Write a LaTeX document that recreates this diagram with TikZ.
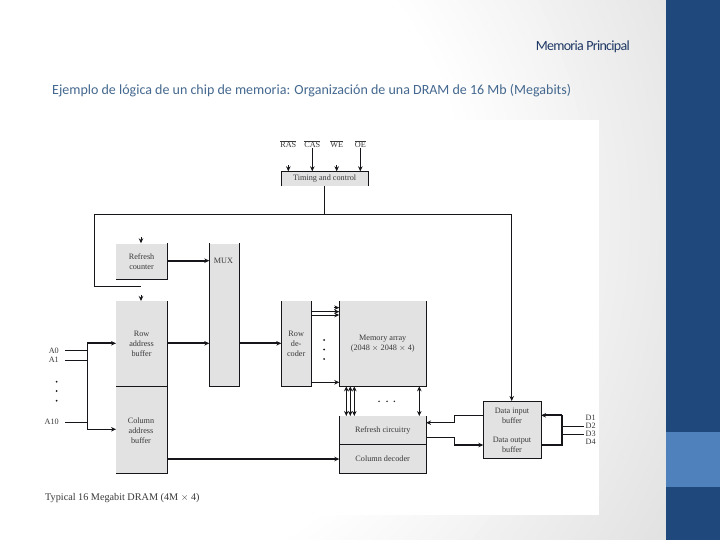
\documentclass[tikz,border=0pt]{standalone}
\usepackage{fontspec}
\setmainfont{Liberation Serif}
\newfontfamily\slidefont{Carlito}
\newfontfamily\squeezefont[LetterSpace=-5]{Carlito}
\usetikzlibrary{arrows.meta,calc,positioning}

\tikzset{
  blockbox/.style={fill=blockgray, inner sep=0pt, anchor=north west, align=center, font=\fontsize{8.2}{10}\selectfont, text=ink!85},
  edge/.style={draw=ink, line width=0.9pt},
  thin line/.style={draw=ink, line width=0.8pt},
  bus/.style={draw=ink, line width=1.7pt},
  tip/.style={-{Stealth[length=5pt,width=4.5pt]}},
  sigtext/.style={font=\fontsize{8.2}{10}\selectfont, text=ink!85, inner sep=0pt},
  dotmark/.style={circle, fill=ink, inner sep=0pt, minimum size=2pt}
}

\begin{document}
\begin{tikzpicture}[x=1pt, y=-1pt, >=Latex]
  \definecolor{ink}{HTML}{16161A}
  \definecolor{blockgray}{HTML}{E2E2E2}
  \definecolor{barblue}{HTML}{1F497D}
  \definecolor{lightblue}{HTML}{4F81BD}
  \definecolor{navy}{HTML}{1F3864}
  \definecolor{steel}{HTML}{44688F}
  \useasboundingbox (0,0) rectangle (720,540);

  % slide background
  \begin{scope}
    \clip (0,0) rectangle (720,540);
    \foreach \rad in {800,790,...,370} {
      \pgfmathsetmacro{\shadepct}{100-(\rad-370)/270*11}
      \fill[white!\shadepct!black] (100,220) circle (\rad);
    }
  \end{scope}
  \fill[white] (40,120) rectangle (599.4,515);
  \fill[barblue] (666,0) rectangle (720,540);
  \fill[lightblue] (666,432) rectangle (720,486.7);

  \node[anchor=east, text=navy, inner sep=0pt, font=\squeezefont\fontsize{14}{16}\selectfont] (slidetitle) at (630,47) {Memoria Principal};
  \node[anchor=west, text=steel, inner sep=0pt, font=\slidefont\fontsize{14}{16}\selectfont] (subtitle) at (52,91) {Ejemplo de lógica de un chip de memoria: Organización de una DRAM de 16 Mb (Megabits)};

  % blocks
  \node[blockbox, minimum width=86.4pt, minimum height=14.7pt] (timing) at (281.3,171.3) {Timing and control};
  \node[blockbox, minimum width=50.7pt, minimum height=36pt] (refresh) at (116,243.3) {Refresh\\counter};
  \node[blockbox, minimum width=29.4pt, minimum height=143pt] (mux) at (209.3,243.3) {};
  \node[sigtext] (muxtext) at (223.5,260.5) {MUX};
  \node[blockbox, minimum width=50.7pt, minimum height=85.3pt] (rowbuf) at (116,301) {Row\\address\\buffer};
  \node[blockbox, minimum width=50.7pt, minimum height=87pt] (colbuf) at (116,386.3) {};
  \node[sigtext, align=center] (coltext) at (141,430.5) {Column\\address\\buffer};
  \node[blockbox, minimum width=29.4pt, minimum height=85.3pt] (rowdec) at (281.3,301) {Row\\de-\\coder};
  \node[blockbox, minimum width=86.4pt, minimum height=85.3pt] (memory) at (339.3,301) {Memory array\\(2048 $\times$ 2048 $\times$ 4)};
  \node[blockbox, minimum width=86.4pt, minimum height=28.3pt] (refcirc) at (339.3,416) {Refresh circuitry};
  \node[blockbox, minimum width=86.4pt, minimum height=29pt] (coldec) at (339.3,444.3) {Column decoder};
  \node[blockbox, minimum width=57.4pt, minimum height=57.3pt] (databox) at (483.3,401) {};
  \node[sigtext, align=center] (dataintext) at (512,416) {Data input\\buffer};
  \node[sigtext, align=center] (dataouttext) at (512,444.5) {Data output\\buffer};

  % block outlines
  \draw[edge] (timing.south west) |- (timing.north east) -- (timing.south east);
  \draw[edge] (refresh.north east) |- (refresh.south west);
  \draw[edge] (mux.north west) |- (mux.south east) -- (mux.north east);
  \draw[edge] (rowbuf.north east) -- (colbuf.south east) -- (colbuf.south west);
  \draw[edge] (rowbuf.south west) -- (rowbuf.south east);
  \draw[edge] (rowdec.north west) |- (rowdec.south east) -- (rowdec.north east);
  \draw[edge] (memory.north west) |- (memory.south east) -- (memory.north east);
  \draw[edge] (refcirc.north west) |- (coldec.south east) -- (refcirc.north east);
  \draw[edge] (refcirc.north west) -- (coldec.south west);
  \draw[edge] (refcirc.south west) -- (refcirc.south east);
  \draw[edge] (databox.north west) rectangle (databox.south east);

  % signals on top
  \node[sigtext] (ras) at (288.3,144.3) {$\overline{\mbox{RAS}}$};
  \node[sigtext] (cas) at (312.3,144.3) {$\overline{\mbox{CAS}}$};
  \node[sigtext] (we) at (336.7,144.3) {$\overline{\mbox{WE}}$};
  \node[sigtext] (oe) at (360.3,144.3) {$\overline{\mbox{OE}}$};
  \coordinate (rasend) at (288.3,171.3);
  \coordinate (casend) at (312.3,171.3);
  \coordinate (weend) at (336.7,171.3);
  \coordinate (oeend) at (360.3,171.3);
  \draw[thin line, tip] (288.3,165.5) -- (rasend);
  \draw[thin line, tip] (336.7,165.5) -- (weend);
  \draw[thin line, tip] (cas.south) -- (casend);
  \draw[thin line, tip] (oe.south) -- (oeend);

  % control lines
  \coordinate (ctrl) at (324,214.3);
  \coordinate (ctrlleft) at (94,214.3);
  \coordinate (ctrlright) at (511.7,214.3);
  \coordinate (ctrldown) at (94,286);
  \coordinate (ctrlend) at (140.7,286);
  \draw[thin line] (timing.south -| ctrl) -- (ctrl);
  \draw[thin line] (ctrlend) -- (ctrldown) -- (ctrlleft) -- (ctrlright);
  \draw[thin line, tip] (ctrlright) -- (ctrlright |- databox.north);
  \draw[thin line, tip] (141,237) -- (141,243.3);
  \draw[thin line, tip] (141,294.5) -- (141,301);

  % addresses
  \node[sigtext, anchor=east] (a0) at (59,350.7) {A0};
  \node[sigtext, anchor=east] (a1) at (59,360) {A1};
  \node[sigtext, anchor=east] (a10) at (59,422.3) {A10};
  \node[dotmark] (adot1) at (56.7,381.7) {};
  \node[dotmark] (adot2) at (56.7,391) {};
  \node[dotmark] (adot3) at (56.7,400.7) {};
  \coordinate (addrtop) at (87.3,343.3);
  \coordinate (addrbot) at (87.3,429.3);
  \draw[thin line] (65,350.7) -- (87.3,350.7);
  \draw[thin line] (65,360) -- (87.3,360);
  \draw[thin line] (65,422.3) -- (87.3,422.3);
  \draw[bus, tip] (addrtop) -- (addrtop -| rowbuf.west);
  \draw[thin line, tip] (addrtop) -- (addrbot) -- (addrbot -| colbuf.west);

  % buses
  \draw[bus, tip] (refresh.east |- 0,260.7) -- (mux.west |- 0,260.7);
  \draw[bus, tip] (rowbuf.east |- 0,343.3) -- (mux.west |- 0,343.3);
  \draw[bus, tip] (mux.east |- 0,343.3) -- (rowdec.west |- 0,343.3);
  \draw[bus, tip] (colbuf.east |- 0,459) -- (coldec.west |- 0,459);

  % row lines
  \draw[thin line, tip] (rowdec.east |- 0,311.7) -- (memory.west |- 0,311.7);
  \draw[thin line, tip] (rowdec.east |- 0,315) -- (memory.west |- 0,315);
  \draw[thin line, tip] (333.5,307.7) -- (memory.west |- 0,307.7);
  \draw[thin line, tip] (rowdec.east |- 0,382.3) -- (memory.west |- 0,382.3);
  \node[dotmark] (rdot1) at (324,340) {};
  \node[dotmark] (rdot2) at (324,349.5) {};
  \node[dotmark] (rdot3) at (324,359) {};

  % data lines
  \foreach \xpos in {346.3,350.3,354.3,419.3}
    \draw[thin line, {Stealth[length=5pt,width=4.5pt]}-{Stealth[length=5pt,width=4.5pt]}] (\xpos,386.3) -- (\xpos,416);
  \node[dotmark, minimum size=1.6pt] (cdot1) at (379,401.3) {};
  \node[dotmark, minimum size=1.6pt] (cdot2) at (387,401.3) {};
  \node[dotmark, minimum size=1.6pt] (cdot3) at (394.3,401.3) {};

  \coordinate (inbend) at (454.3,415.3);
  \coordinate (inbendb) at (454.3,422.7);
  \coordinate (outbend) at (454.3,437.3);
  \coordinate (outbendb) at (454.3,445);
  \draw[thin line] (databox.west |- inbend) -- (inbend) -- (inbendb);
  \draw[thin line, tip] (inbendb) -- (refcirc.east |- inbendb);
  \draw[thin line] (refcirc.east |- outbend) -- (outbend) -- (outbendb);
  \draw[bus, tip] (outbendb) -- (databox.west |- outbendb);

  % data pins
  \coordinate (pinjoin) at (562.3,445);
  \coordinate (pintop) at (562.3,415.3);
  \draw[bus] (databox.east |- pinjoin) -- (pinjoin) -- (pintop);
  \draw[bus, tip] (pintop) -- (databox.east |- pintop);
  \draw[thin line] (562.3,426.7) -- (584,426.7);
  \draw[thin line] (562.3,434.3) -- (584,434.3);
  \node[sigtext, anchor=west] (d1) at (585.5,418) {D1};
  \node[sigtext, anchor=west] (d2) at (585.5,426) {D2};
  \node[sigtext, anchor=west] (d3) at (585.5,434) {D3};
  \node[sigtext, anchor=west] (d4) at (585.5,442) {D4};

  \node[anchor=west, inner sep=0pt, text=ink!85, font=\fontsize{10.2}{12}\selectfont] (caption) at (45,498.3) {Typical 16 Megabit DRAM (4M $\times$ 4)};
\end{tikzpicture}
\end{document}
